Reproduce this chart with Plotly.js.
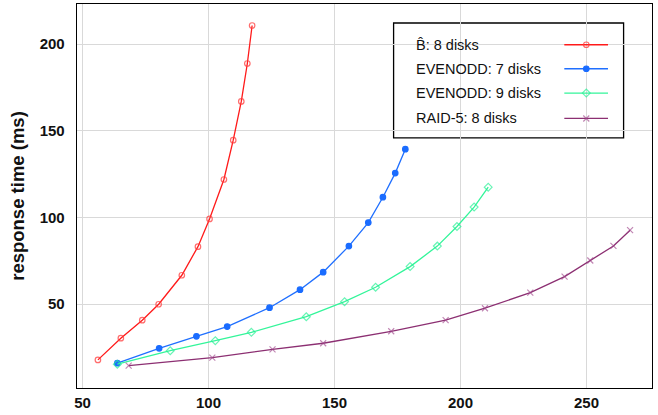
<!DOCTYPE html>
<html><head><meta charset="utf-8">
<script src="https://cdn.plot.ly/plotly-3.0.1.min.js"></script>
<style>html,body{margin:0;padding:0;background:#fff}#chart{width:658px;height:415px}</style>
</head><body><div id="chart"></div>
<script>
// Series data (x: request rate, y: response time in ms)
const seriesNames = ["B\u0302: 8 disks", "EVENODD: 7 disks", "EVENODD: 9 disks", "RAID-5: 8 disks"];
const bhat8X = [56.1, 65.2, 73.7, 80.2, 89.4, 95.8, 100.4, 106.1, 109.8, 113.0, 115.4, 117.3];
const bhat8Y = [17.9, 30.4, 40.8, 50.0, 66.7, 83.2, 99.2, 121.9, 144.6, 166.9, 188.8, 210.7];
const evenodd7X = [63.8, 80.4, 95.2, 107.4, 124.2, 136.3, 145.5, 155.7, 163.4, 169.2, 174.1, 178.1];
const evenodd7Y = [16.0, 24.6, 31.5, 37.1, 48.0, 58.4, 68.5, 83.5, 97.1, 111.7, 125.6, 139.4];
const evenodd9X = [63.8, 84.8, 102.7, 117.0, 138.8, 154.0, 166.3, 180.0, 190.8, 198.6, 205.4, 211.0];
const evenodd9Y = [15.4, 23.2, 29.0, 33.8, 42.8, 51.5, 59.8, 71.7, 83.5, 94.8, 106.0, 117.5];
const raid5X = [68.3, 101.5, 125.4, 145.5, 172.5, 194.1, 209.7, 227.7, 241.3, 251.5, 260.7, 267.3];
const raid5Y = [14.6, 19.2, 24.0, 27.5, 34.4, 40.8, 47.7, 56.7, 65.9, 75.2, 83.6, 92.7];
const xTicks = [50, 100, 150, 200, 250];
const yTicks = [50, 100, 150, 200];

const styles = [
  {line: "#ff1a1a", marker: "rgba(255,60,60,0.75)", symbol: "circle-open", size: 5.5},
  {line: "#1f6fff", marker: "#1a6cff", symbol: "circle", size: 5.5},
  {line: "#33f59a", marker: "rgba(40,240,150,0.7)", symbol: "diamond-open", size: 6},
  {line: "#8c2f72", marker: "rgba(160,70,140,0.65)", symbol: "x-thin-open", size: 6}
];
const xs = [bhat8X, evenodd7X, evenodd9X, raid5X];
const ys = [bhat8Y, evenodd7Y, evenodd9Y, raid5Y];

const traces = xs.map((x, i) => ({
  type: "scatter", mode: "lines+markers", x: x, y: ys[i], name: seriesNames[i],
  showlegend: false,
  line: {color: styles[i].line, width: 1.3},
  marker: {symbol: styles[i].symbol, size: styles[i].size, color: styles[i].marker,
           line: {color: styles[i].marker, width: 1.2}}
}));

// Manual legend (text left, sample right), drawn in an overlay axis in paper units
const legRowY = [0.8939, 0.8314, 0.768, 0.7019];
const legX0 = 0.8475, legX1 = 0.9235, legXm = 0.8857;
seriesNames.forEach((n, i) => {
  traces.push({type: "scatter", mode: "lines", x: [legX0, legX1], y: [legRowY[i], legRowY[i]],
    xaxis: "x2", yaxis: "y2", showlegend: false, hoverinfo: "skip",
    line: {color: styles[i].line, width: 1.3}});
  traces.push({type: "scatter", mode: "markers", x: [legXm], y: [legRowY[i]],
    xaxis: "x2", yaxis: "y2", showlegend: false, hoverinfo: "skip",
    marker: {symbol: styles[i].symbol, size: styles[i].size, color: styles[i].marker,
             line: {color: styles[i].marker, width: 1.2}}});
});

const tickFont = {family: "'Liberation Sans', Arial, sans-serif", size: 15, color: "#111", weight: "bold"};

const annotations = seriesNames.map((n, i) => ({
  xref: "paper", yref: "paper", x: 0.5854, y: legRowY[i], xanchor: "left", yanchor: "middle",
  text: n, showarrow: false,
  font: {family: "'Liberation Sans', Arial, sans-serif", size: 14.5, color: "#111", weight: "normal"}
}));

const layout = {
  width: 658, height: 415,
  margin: {l: 76.7, r: 6.3, t: 4.3, b: 27},
  paper_bgcolor: "#fff", plot_bgcolor: "#fff",
  font: {family: "'Liberation Sans', Arial, sans-serif", size: 14, color: "#111"},
  xaxis: {range: [47.8, 276.0], tickvals: xTicks, ticktext: xTicks.map(String),
    showgrid: true, gridcolor: "#d9d9d9", gridwidth: 1, zeroline: false,
    showline: true, linecolor: "#000", linewidth: 1.3, mirror: true,
    ticks: "", ticklabelstandoff: 1, tickfont: tickFont},
  yaxis: {range: [1.7, 223.1], tickvals: yTicks, ticktext: yTicks.map(String),
    showgrid: true, gridcolor: "#d9d9d9", gridwidth: 1, zeroline: false,
    showline: true, linecolor: "#000", linewidth: 1.3, mirror: true,
    ticks: "", ticklabelstandoff: 8, tickfont: tickFont,
    title: {text: "response time (ms)", standoff: 10,
      font: {family: "'Liberation Sans', Arial, sans-serif", size: 18.5, weight: "bold", color: "#111"}}},
  xaxis2: {overlaying: "x", range: [0, 1], visible: false, fixedrange: true},
  yaxis2: {overlaying: "y", range: [0, 1], visible: false, fixedrange: true},
  shapes: [{type: "rect", xref: "paper", yref: "paper", x0: 0.5506, x1: 0.9506, y0: 0.6516, y1: 0.9505,
    line: {color: "#000", width: 1.3}, fillcolor: "#fff", layer: "below"}],
  annotations: annotations
};

Plotly.newPlot("chart", traces, layout, {displayModeBar: false, staticPlot: true});
</script></body></html>
